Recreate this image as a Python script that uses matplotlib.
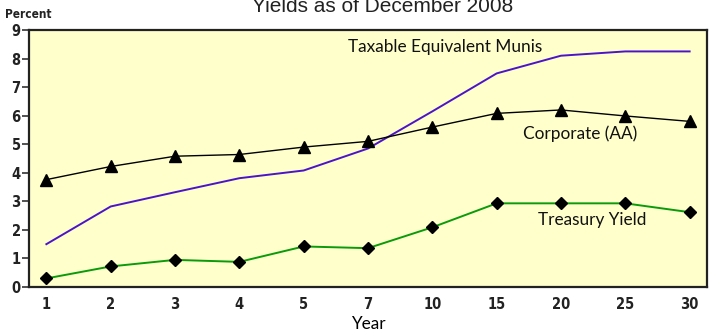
import matplotlib
matplotlib.use("Agg")
import matplotlib.pyplot as plt
from matplotlib.font_manager import FontProperties

# Yield curves by maturity, December 2008
years = ["1", "2", "3", "4", "5", "7", "10", "15", "20", "25", "30"]
munis_taxable_equiv = [1.50, 2.82, 3.32, 3.81, 4.08, 4.85, 6.15, 7.48, 8.10, 8.25, 8.25]
corporate_aa = [3.76, 4.22, 4.58, 4.64, 4.90, 5.10, 5.60, 6.08, 6.20, 5.99, 5.80]
treasury = [0.30, 0.72, 0.95, 0.88, 1.42, 1.36, 2.09, 2.93, 2.93, 2.93, 2.62]
y_ticks = list(range(0, 10))

fig = plt.figure(figsize=(7.12, 3.34), dpi=100)
ax = fig.add_axes([29 / 712, 1 - 287 / 334, 678 / 712, 257 / 334])
ax.set_facecolor("#FFFFCC")

x = list(range(len(years)))
ax.plot(x, munis_taxable_equiv, color="#4B14C8", lw=1.4, zorder=3)
ax.plot(x, corporate_aa, color="black", lw=1.0, marker="^", ms=8, zorder=4)
ax.plot(x, treasury, color="#0A9A0A", lw=1.4, marker="D", ms=6.5,
        mfc="black", mec="black", zorder=4)

ax.set_xlim(-0.27, 10.27)
ax.set_ylim(0, 9)
ax.set_xticks(x)
ax.set_xticklabels(years)
ax.set_yticks(y_ticks)

tick_fp = FontProperties(family="DejaVu Sans", stretch="condensed", weight="bold", size=10.5)
for lab in ax.get_xticklabels() + ax.get_yticklabels():
    lab.set_fontproperties(tick_fp)
    lab.set_color("#222222")
ax.tick_params(axis="x", length=0, pad=7)
ax.tick_params(axis="y", length=5, width=1.2, pad=1, color="#333333")

for s in ax.spines.values():
    s.set_linewidth(1.6)
    s.set_color("#222222")

lab_font = dict(family="Lato", size=12.4, color="#111111")
ax.text(4.69, 8.4, "Taxable Equivalent Munis", ha="left", va="center", **lab_font)
ax.text(8.30, 5.37, "Corporate (AA)", ha="center", va="center", **lab_font)
ax.text(8.48, 2.33, "Treasury Yield", ha="center", va="center", **lab_font)

ax.set_xlabel("Year", family="Lato", size=12.4, labelpad=3)
fig.text(5 / 712, 1 - 14 / 334, "Percent", ha="left", va="center",
         family="DejaVu Sans", stretch="condensed", weight="bold", size=8.5,
         color="#222222")
fig.text(383 / 712, 1 - 6 / 334, "Yields as of December 2008", ha="center",
         va="center", family="Liberation Sans", size=15, color="#222222")

fig.savefig("out.png", dpi=100)
